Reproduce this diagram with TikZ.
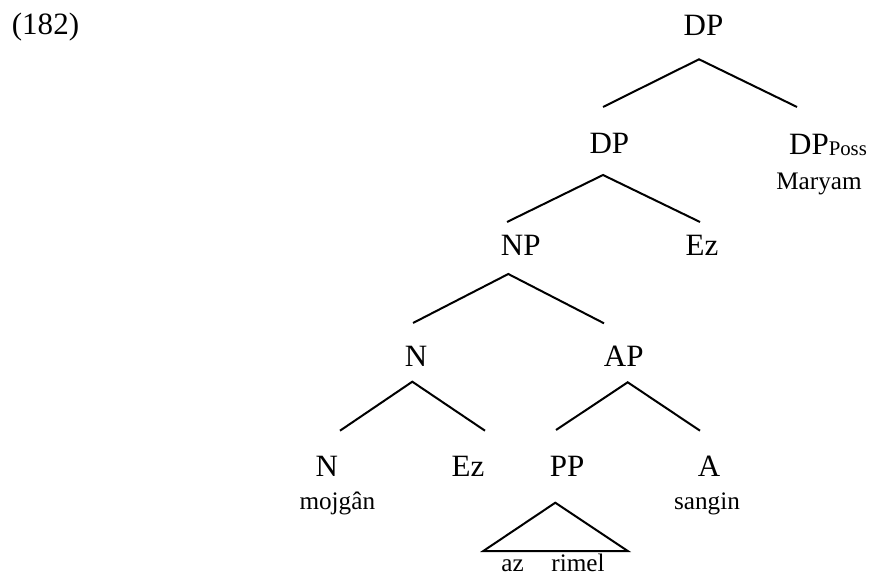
\documentclass[tikz,border=0pt]{standalone}
\usepackage{fontspec}
\setmainfont{Liberation Serif}
\usepackage{tikz}
\newcommand{\catfont}{\fontsize{15.5pt}{18pt}\selectfont}
\newcommand{\wordfont}{\fontsize{12.6pt}{15pt}\selectfont}
\newcommand{\possfont}{\fontsize{10.4pt}{12pt}\selectfont}
\tikzset{
  cat/.style={anchor=base, inner sep=0pt, font=\catfont},
  word/.style={anchor=base, inner sep=0pt, font=\wordfont},
  branch/.style={line width=1pt, draw=black}
}

\begin{document}
\begin{tikzpicture}[x=0.5pt, y=-0.5pt]
  \useasboundingbox (0,0) rectangle (870,576);

  % example number
  \node[cat] (exnum) at (45.5,34.5) {(182)};

  % categories
  \node[cat] (dp0)   at (703.5,36)  {DP};
  \node[cat] (dp1)   at (609.3,154) {DP};
  \node[cat] (poss)  at (828,155)   {DP\raisebox{-0.5pt}{\possfont Poss}};
  \node[cat] (np)    at (520.7,256) {NP};
  \node[cat] (ezA)   at (702,256)   {Ez};
  \node[cat] (n1)    at (416,366)   {N};
  \node[cat] (ap)    at (623.7,366) {AP};
  \node[cat] (n2)    at (326.7,476.7) {N};
  \node[cat] (ezB)   at (468,476.7) {Ez};
  \node[cat] (pp)    at (567,476.7) {PP};
  \node[cat] (adj)   at (709,476.7) {A};

  % words
  \node[word] (maryam) at (819,190)   {Maryam};
  \node[word] (mojgan) at (337.3,509) {mojgân};
  \node[word] (sangin) at (707,509)   {sangin};
  \node[word] (az)     at (512.5,571) {az};
  \node[word] (rimel)  at (578,571)   {rimel};

  % branches
  \draw[branch] ([shift={(-6.3,-47)}]dp1.base) -- ([shift={(-4.5,23.3)}]dp0.base)
                -- ([shift={(-31,-48)}]poss.base);
  \draw[branch] ([shift={(-13.7,-34)}]np.base) -- ([shift={(-6.3,21)}]dp1.base)
                -- ([shift={(-2,-34)}]ezA.base);
  \draw[branch] ([shift={(-3,-43)}]n1.base) -- ([shift={(-12.4,18)}]np.base)
                -- ([shift={(-19.7,-42.7)}]ap.base);
  \draw[branch] ([shift={(13.3,-46)}]n2.base) -- ([shift={(-3.7,15.7)}]n1.base)
                -- ([shift={(17,-46)}]ezB.base);
  \draw[branch] ([shift={(-11,-46.7)}]pp.base) -- ([shift={(4,16.3)}]ap.base)
                -- ([shift={(-9,-46)}]adj.base);

  % triangle over az rimel
  \draw[branch] ([shift={(-11.7,26)}]pp.base) -- ([shift={(-29.2,-20)}]az.base)
                -- ([shift={(49.7,-20)}]rimel.base) -- cycle;
\end{tikzpicture}
\end{document}
